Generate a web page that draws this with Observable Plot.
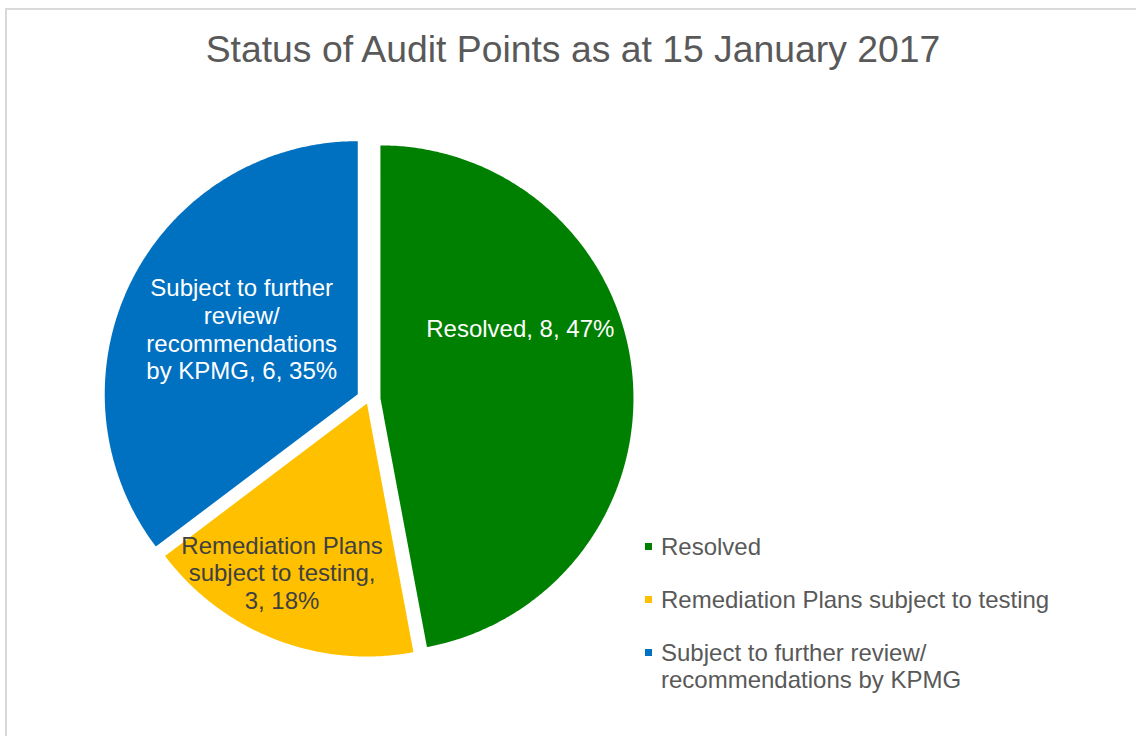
<!DOCTYPE html>
<html>
<head>
<meta charset="utf-8">
<script src="https://cdn.jsdelivr.net/npm/d3@7"></script>
<script src="https://cdn.jsdelivr.net/npm/@observablehq/plot@0.6"></script>
<style>
  html, body { margin: 0; padding: 0; background: #ffffff; }
  #frame { position: relative; width: 1136px; height: 736px; overflow: hidden; background: #ffffff;
           font-family: "Liberation Sans", Arial, sans-serif; }
  #border { position: absolute; left: 5px; top: 8px; width: 1150px; height: 760px;
            border: 2px solid #d9d9d9; box-sizing: border-box; }
  #title { position: absolute; left: 0; top: 28px; width: 1146px; text-align: center;
           font-size: 37.33px; line-height: 43px; color: #595959; white-space: nowrap; }
  #chart { position: absolute; left: 0; top: 0; }
  #legend { position: absolute; left: 645px; top: 533px; }
  .item { display: flex; align-items: flex-start; margin-bottom: 26px; }
  .sw { width: 7px; height: 7px; margin-top: 10px; margin-right: 9px; flex: none; }
  .lt { font-size: 24px; line-height: 27px; color: #595959; max-width: 400px; }
</style>
</head>
<body>
<div id="frame">
  <div id="border"></div>
  <div id="title"></div>
  <div id="chart"></div>
  <div id="legend"></div>
</div>
<script>
// ---- data ----
const chartTitle = "Status of Audit Points as at 15 January 2017";
const categories = [
  "Resolved",
  "Remediation Plans subject to testing",
  "Subject to further review/ recommendations by KPMG"
];
const counts = [8, 3, 6];
const colors = ["#008000", "#FFC000", "#0070C0"];
const labelNames = [
  "Resolved",
  "Remediation Plans\nsubject to testing",
  "Subject to further\nreview/\nrecommendations\nby KPMG"
];
const labelSeparators = [" ", "\n", " "];
const labelColors = ["#ffffff", "#404040", "#ffffff"];

// ---- layout ----
const W = 1136, H = 736;
const CX = 368, CY = 399, R = 253;           // pie centre / radius in pixels
const explode = [12 / R, 4.3 / R, 12 / R];   // explosion per slice (radius units)
const labelPolar = [[63.4, 0.618], [206.7, 0.747], [299.3, 0.526]]; // angle (deg), dist (radius units) from slice tip

const total = d3.sum(counts);
const rad = Math.PI / 180;

const slicePts = [];
const labels = [];
let acc = 0;
categories.forEach((cat, i) => {
  const a0 = acc / total * 2 * Math.PI;
  const a1 = (acc + counts[i]) / total * 2 * Math.PI;
  acc += counts[i];
  const mid = (a0 + a1) / 2;
  const tx = explode[i] * Math.sin(mid), ty = explode[i] * Math.cos(mid);
  slicePts.push({cat, x: tx, y: ty});
  const n = Math.max(8, Math.ceil((a1 - a0) / rad * 2));
  for (let k = 0; k <= n; k++) {
    const t = a0 + (a1 - a0) * k / n;
    slicePts.push({cat, x: tx + Math.sin(t), y: ty + Math.cos(t)});
  }
  slicePts.push({cat, x: tx, y: ty});
  const [la, lr] = labelPolar[i];
  const pct = Math.round(counts[i] / total * 100);
  labels.push({
    x: tx + lr * Math.sin(la * rad),
    y: ty + lr * Math.cos(la * rad),
    text: `${labelNames[i]},${labelSeparators[i]}${counts[i]}, ${pct}%`,
    color: labelColors[i]
  });
});

const plot = Plot.plot({
  width: W,
  height: H,
  margin: 0,
  x: {domain: [-CX / R, (W - CX) / R], axis: null},
  y: {domain: [-(H - CY) / R, CY / R], axis: null},
  color: {type: "ordinal", domain: categories, range: colors},
  style: {fontFamily: "'Liberation Sans', Arial, sans-serif", background: "transparent", overflow: "visible"},
  marks: [
    Plot.line(slicePts, {x: "x", y: "y", z: "cat", fill: "cat", stroke: "none", curve: "linear"}),
    Plot.text(labels, {x: "x", y: "y", text: "text", fill: "color", fontSize: 24, lineHeight: 1.15, textAnchor: "middle"})
  ]
});
document.getElementById("chart").appendChild(plot);

document.getElementById("title").textContent = chartTitle;

const legend = document.getElementById("legend");
categories.forEach((cat, i) => {
  const item = document.createElement("div");
  item.className = "item";
  const sw = document.createElement("div");
  sw.className = "sw";
  sw.style.background = colors[i];
  const lt = document.createElement("div");
  lt.className = "lt";
  lt.textContent = cat;
  item.appendChild(sw);
  item.appendChild(lt);
  legend.appendChild(item);
});
</script>
</body>
</html>
